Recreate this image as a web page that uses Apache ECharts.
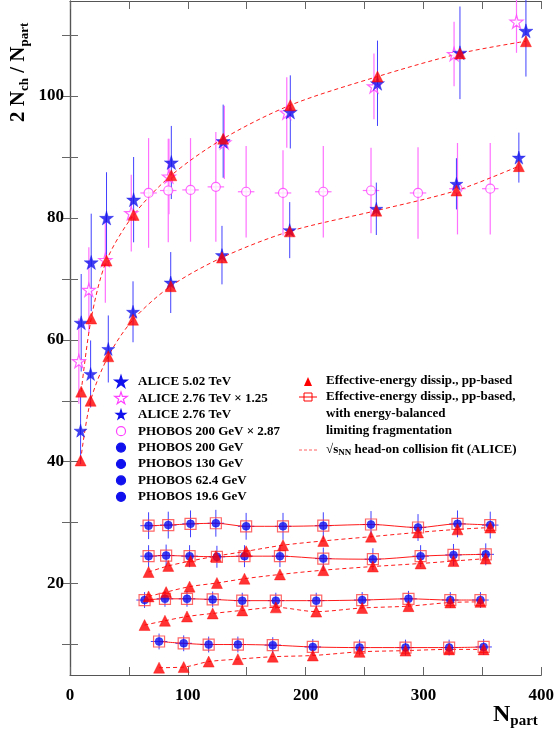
<!DOCTYPE html>
<html><head><meta charset="utf-8">
<script src="https://cdn.jsdelivr.net/npm/echarts@6/dist/echarts.min.js"></script>
<style>html,body{margin:0;padding:0;background:#fff}#c{width:557px;height:736px}</style>
</head><body><div id="c"></div>
<script>
const aliceX=[9.5,18,31,54,86,130,187,261,331,387];
const alice502Y=[62.8,72.7,80,83,89.1,92.6,97.4,102.1,107.1,110.7];
const alice502E=[8,8,7.5,7,6,6,6,7,7.6,7.5];
const alice276X=[9,17.5,32.5,53.5,85.5,129,186.5,260,328,381];
const alice276Y=[45.1,54.4,58.5,64.6,69.4,73.9,78,81.5,85.6,89.9];
const alice276E=[5.5,5.5,5.5,5,5,4.8,4.6,4.3,4.2,4.1];
const alice276sX=[7.5,16,30,52,84,131,184,258,326,379];
const alice276sY=[56.5,68.2,73.1,80.8,86.8,92.4,97.3,101.6,106.9,112.2];
const alice276sE=[7,7,7,6.3,6.2,6,5.8,5.4,5.3,5.1];
const effUpperY=[51.5,63.5,73,80.5,87,93,98.5,103.2,107,109];
const effLowerY=[40.2,50,57.3,63.3,68.8,73.5,77.8,81.2,84.5,88.5];
const p200X=[66.7,83.4,102.3,123.8,149.5,180.8,215,255.5,295.4,328.9,356.7];
const p200sY=[84.1,84.5,84.6,85.1,84.3,84.1,84.3,84.5,84.1,84.8,84.8];
const p200sE=[9,8.5,8.5,9,7.5,7,7.5,7,7.5,7.5,7.5];
const p200Y=[29.5,29.6,29.8,29.9,29.4,29.4,29.5,29.7,29.2,29.8,29.6];
const tri200=[21.9,22.9,23.7,24.5,25.3,26.3,27.0,27.7,28.4,28.9,29.2];
const p130X=[66.7,81.6,101.5,124.7,148.1,178.2,215,257.1,297.6,325.5,352.9];
const p130Y=[24.5,24.6,24.5,24.4,24.5,24.5,24.1,24.0,24.5,24.7,24.8];
const tri130=[17.9,18.6,19.5,20.1,20.8,21.5,22.2,22.8,23.3,23.7,24.1];
const p62X=[63.3,80.6,99.3,121.1,146.2,174.7,209,248,287.3,322.8,348.4];
const p62Y=[17.3,17.5,17.5,17.4,17.2,17.2,17.2,17.3,17.5,17.3,17.3];
const tri62=[13.2,13.9,14.6,15.1,15.6,16.1,15.4,16.0,16.3,16.9,17.0];
const p19X=[75.6,96.5,117.7,142.5,172.1,206.1,245.8,284.8,321.8,351.1];
const p19Y=[10.5,10.2,10.0,10.0,9.9,9.6,9.5,9.5,9.5,9.6];
const tri19=[6.2,6.3,7.2,7.6,8.0,8.2,8.8,9.0,9.2,9.2];
const xTicks=[0,100,200,300,400];
const yTicks=[20,40,60,80,100];

const STARPTS=[[50,0],[61,35],[98,35],[68,57],[79,91],[50,70],[21,91],[32,57],[2,35],[39,35]];
const STAR='path://M'+STARPTS.map(p=>p.join(',')).join(' L')+' Z';
const BLUE='#1010ee', MAG='#ff40ff', RED='#ff0000';
const zip=(xs,ys)=>xs.map((x,i)=>[x,ys[i]]);
function errSeries(xs,ys,ye,xe,color,w){
  return {type:'custom',silent:true,z:1,data:xs.map((x,i)=>[x,ys[i],ye[i],xe]),
    renderItem:(p,api)=>{
      const x=api.value(0),y=api.value(1),e=api.value(2),h=api.value(3);
      const a=api.coord([x,y+e]),b=api.coord([x,y-e]),c=api.coord([x-h,y]),d=api.coord([x+h,y]);
      const st={stroke:color,lineWidth:w};
      return {type:'group',children:[
        {type:'line',shape:{x1:a[0],y1:a[1],x2:b[0],y2:b[1]},style:st},
        {type:'line',shape:{x1:c[0],y1:c[1],x2:d[0],y2:d[1]},style:st}]};
    }};
}
const sc=(name,data,sym,size,color,hollow,z)=>({type:'scatter',name,data,symbol:sym,symbolSize:size,z:z||3,
  itemStyle:hollow?{color:'#fff',borderColor:color,borderWidth:1.2}:{color:color,borderColor:color,borderWidth:0.5}});
const line=(data,dashed,z)=>({type:'line',data,smooth:0.3,symbol:'none',z:z||2,
  lineStyle:{color:RED,width:1,type:dashed?[4,3]:'solid',opacity:0.9}});
const series=[
  errSeries(alice276sX,alice276sY,alice276sE,0,'#ff70ff',1.2),
  errSeries(p200X,p200sY,p200sE,7,'#ff70ff',1.2),
  errSeries(aliceX,alice502Y,alice502E,0,'#4040ff',1),
  errSeries(alice276X,alice276Y,alice276E,0,'#4040ff',1),
  errSeries(p200X,p200Y,p200Y.map(()=>2.2),7,'#4040ff',1),
  errSeries(p130X,p130Y,p130Y.map(()=>1.8),7,'#4040ff',1),
  errSeries(p62X,p62Y,p62Y.map(()=>1.3),7,'#4040ff',1),
  errSeries(p19X,p19Y,p19Y.map(()=>1.3),7,'#4040ff',1),
  line(zip(aliceX,effUpperY),true), line(zip(alice276X,effLowerY),true),
  line(zip(p200X,tri200),true), line(zip(p130X,tri130),true), line(zip(p62X,tri62),true), line(zip(p19X,tri19),true),
  line(zip(p200X,p200Y),false), line(zip(p130X,p130Y),false), line(zip(p62X,p62Y),false), line(zip(p19X,p19Y),false),
  sc('PHOBOS 200 x2.87',zip(p200X,p200sY),'circle',9,MAG,true),
  sc('ALICE 2.76 x1.25',zip(alice276sX,alice276sY),STAR,13,MAG,true),
  ...[[p200X,p200Y],[p130X,p130Y],[p62X,p62Y],[p19X,p19Y]].map(([xs,ys])=>({type:'scatter',data:zip(xs,ys),symbol:'rect',symbolSize:11,z:3,
     itemStyle:{color:'rgba(0,0,0,0)',borderColor:'#ff4040',borderWidth:1.2}})),
  ...[[p200X,p200Y],[p130X,p130Y],[p62X,p62Y],[p19X,p19Y]].map(([xs,ys])=>sc('',zip(xs,ys),'circle',8,BLUE,false,4)),
  sc('ALICE 5.02',zip(aliceX,alice502Y),STAR,14,BLUE,false,4),
  sc('ALICE 2.76',zip(alice276X,alice276Y),STAR,13,BLUE,false,4),
  ...[[aliceX,effUpperY],[alice276X,effLowerY],[p200X,tri200],[p130X,tri130],[p62X,tri62],[p19X,tri19]].map(([xs,ys])=>sc('',zip(xs,ys),'triangle',11,RED,false,5))
];
const F='"Liberation Serif", serif';
const LBL={fontFamily:'Liberation Serif',fontWeight:'bold',fontSize:17,color:'#000'};
const axBase={min:0,max:400,axisLine:{lineStyle:{color:'#555',width:1.2}},splitLine:{show:false},
  axisTick:{inside:true,length:8,lineStyle:{color:'#666'},customValues:[0,50,100,150,200,250,300,350,400]}};
const ayBase={min:5,max:115.6,axisLine:{lineStyle:{color:'#555',width:1.2}},splitLine:{show:false},
  axisTick:{inside:true,length:8,lineStyle:{color:'#666'},customValues:[10,20,30,40,50,60,70,80,90,100,110]}};
const legL=[
 ['ALICE 5.02 TeV',true,BLUE,false,13],['ALICE 2.76 TeV × 1.25',true,MAG,true,13],['ALICE 2.76 TeV',true,BLUE,false,10],
 ['PHOBOS 200 GeV × 2.87',false,MAG,true,10],['PHOBOS 200 GeV',false,BLUE,false,10],['PHOBOS 130 GeV',false,BLUE,false,10],
 ['PHOBOS 62.4 GeV',false,BLUE,false,10],['PHOBOS 19.6 GeV',false,BLUE,false,10]];
const g=[];
legL.forEach((r,i)=>{const y=382+i*16.4;
  const s=r[4]/100;
  const sym=r[1]?{type:'polygon',shape:{points:STARPTS.map(p=>[121-r[4]/2+p[0]*s,y-r[4]/2+p[1]*s])}}:{type:'circle',shape:{cx:121,cy:y,r:4.5}};
  sym.style={fill:r[3]?'#fff':r[2],stroke:r[2],lineWidth:1.2};g.push(sym);
  g.push({type:'text',x:138,y:y,style:{text:r[0],font:'bold 13px '+F,fill:'#000',verticalAlign:'middle'}});});
g.push({type:'polygon',shape:{points:[[304,386],[312,386],[308,377]]},style:{fill:RED}});
g.push({type:'rect',shape:{x:304,y:393,width:8,height:8},style:{fill:'none',stroke:RED,lineWidth:1}});
g.push({type:'line',shape:{x1:299,y1:397,x2:317,y2:397},style:{stroke:RED,lineWidth:1}});
g.push({type:'line',shape:{x1:299,y1:450,x2:317,y2:450},style:{stroke:'#ff6060',lineWidth:1,lineDash:[3,2]}});
[['Effective-energy dissip., pp-based',381],['Effective-energy dissip., pp-based,',397],['with energy-balanced',414],['limiting fragmentation',431]].forEach(t=>
  g.push({type:'text',x:326,y:t[1],style:{text:t[0],font:'bold 13px '+F,fill:'#000',verticalAlign:'middle'}}));
g.push({type:'text',x:326,y:450,style:{text:'{a|√s}{c|NN}{a| head-on collision fit (ALICE)}',verticalAlign:'middle',
  rich:{a:{font:'bold 13px '+F},c:{font:'bold 9px '+F,padding:[6,0,0,0]}}}});
g.push({type:'text',x:493,y:700,style:{text:'{a|N}{b|part}',rich:{a:{font:'bold 24px '+F},b:{font:'bold 15px '+F,padding:[14,0,0,0]}}}});
g.push({type:'text',x:6,y:122,rotation:Math.PI/2,style:{text:'{a|2 N}{b|ch}{a| / N}{b|part}',
  rich:{a:{font:'bold 21px '+F},b:{font:'bold 13px '+F,padding:[12,0,0,0]}}}});
const opt={animation:false,
 grid:{left:70,right:14.5,top:1,bottom:61},
 xAxis:[{...axBase,type:'value',position:'bottom',
   axisLabel:{...LBL,customValues:xTicks,margin:12}},
  {...axBase,type:'value',position:'top',axisLabel:{show:false}}],
 yAxis:[{...ayBase,type:'value',position:'left',
   axisLabel:{...LBL,customValues:yTicks,margin:6}},
  {...ayBase,type:'value',position:'right',axisLabel:{show:false}}],
 series, graphic:g};
const ch=echarts.init(document.getElementById('c'));
ch.setOption(opt);
</script></body></html>
